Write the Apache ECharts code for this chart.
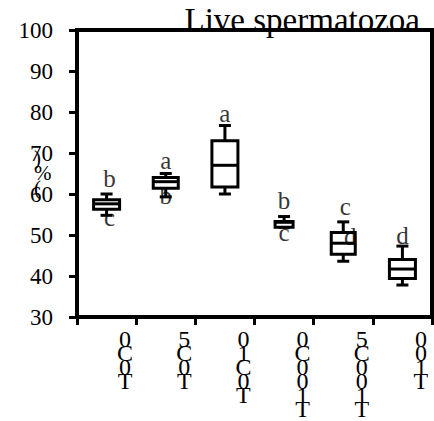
<!DOCTYPE html>
<html>
<head>
<meta charset="utf-8">
<script src="https://cdn.jsdelivr.net/npm/echarts@6/dist/echarts.min.js"></script>
<style>html,body{margin:0;padding:0;background:#fff}#c{width:434px;height:421px}</style>
</head>
<body>
<div id="c"></div>
<script>
// ---- data ----
var categories = ['0C0T', '5C0T', '01C0T', '0C001T', '5C001T', '001T'];
// [min, Q1, median, Q3, max]
var boxMin    = [54.8, 59.3, 60.0, 51.9, 43.6, 37.8];
var boxQ1     = [56.3, 61.4, 61.7, 51.9, 45.3, 39.4];
var boxMedian = [57.6, 63.0, 67.0, 53.1, 48.0, 41.7];
var boxQ3     = [58.6, 64.0, 73.0, 53.3, 50.6, 44.0];
var boxMax    = [60.0, 65.0, 76.7, 54.5, 53.2, 47.3];
var yTicks = [30, 40, 50, 60, 70, 80, 90, 100];
// significance letters: [category index, value, letter]
var letterCat   = [0, 0, 1, 1, 2, 3, 3, 4, 4, 5];
var letterValue = [63.8, 54.3, 68.1, 59.7, 79.6, 58.5, 50.7, 57.0, 49.6, 50.0];
var letterText  = ['b', 'c', 'a', 'b', 'a', 'b', 'c', 'c', 'd', 'd'];

// ---- styles ----
var boxWidths = [26, 25, 26, 18, 24, 26];
var letterShiftX = [3, 3, 0, 0, 0, 0, 0, 2, 7, 0];
var capWidth = 12;
var FONT = 'Liberation Serif';

var boxData = categories.map(function (c, i) {
  return [i, boxMin[i], boxQ1[i], boxMedian[i], boxQ3[i], boxMax[i]];
});
var letterData = letterCat.map(function (c, i) {
  return {value: [c, letterValue[i], letterText[i]], label: {offset: [letterShiftX[i], 0]}};
});

var chart = echarts.init(document.getElementById('c'), null, {renderer: 'svg'});
chart.setOption({
  animation: false,
  backgroundColor: '#fff',
  textStyle: {fontFamily: FONT},
  title: {
    text: 'Live spermatozoa',
    right: 9,
    top: -2,
    textStyle: {fontFamily: FONT, fontSize: 33, fontWeight: 'normal', color: '#000'}
  },
  grid: {
    left: 77, right: 2, top: 30, bottom: 104,
    show: true, borderColor: '#000', borderWidth: 4, backgroundColor: 'transparent'
  },
  graphic: [{
    type: 'text',
    left: 34, top: 147,
    z: 10,
    style: {text: ')\n%\n(', fontFamily: FONT, fontSize: 21, lineHeight: 15, fill: '#000', align: 'center'}
  }],
  xAxis: {
    type: 'category',
    data: categories,
    axisLine: {lineStyle: {color: '#000', width: 4}},
    axisTick: {show: true, length: 8, lineStyle: {color: '#000', width: 3}},
    axisLabel: {
      color: '#000', fontFamily: FONT, fontSize: 24, lineHeight: 14,
      margin: 15, padding: [0, 0, 0, 37], interval: 0,
      formatter: function (v) { return v.split('').join('\n'); }
    },
    splitLine: {show: false}
  },
  yAxis: {
    type: 'value',
    min: yTicks[0], max: yTicks[yTicks.length - 1], interval: 10,
    axisLine: {show: true, lineStyle: {color: '#000', width: 4}},
    axisTick: {show: true, length: 8, lineStyle: {color: '#000', width: 3}},
    axisLabel: {color: '#000', fontFamily: FONT, fontSize: 23, margin: 24},
    splitLine: {show: false}
  },
  series: [{
    type: 'custom',
    data: boxData,
    encode: {x: 0, y: [1, 2, 3, 4, 5]},
    renderItem: function (params, api) {
      var i = api.value(0);
      var w = boxWidths[i] / 2;
      var cw = capWidth / 2;
      var pMin = api.coord([i, api.value(1)]);
      var pQ1 = api.coord([i, api.value(2)]);
      var pMed = api.coord([i, api.value(3)]);
      var pQ3 = api.coord([i, api.value(4)]);
      var pMax = api.coord([i, api.value(5)]);
      var x = pMed[0];
      var ls = {stroke: '#000', lineWidth: 3, fill: null};
      return {
        type: 'group',
        children: [
          {type: 'line', shape: {x1: x, y1: pQ3[1], x2: x, y2: pMax[1]}, style: ls},
          {type: 'line', shape: {x1: x - cw, y1: pMax[1], x2: x + cw, y2: pMax[1]}, style: ls},
          {type: 'line', shape: {x1: x, y1: pQ1[1], x2: x, y2: pMin[1]}, style: ls},
          {type: 'line', shape: {x1: x - cw, y1: pMin[1], x2: x + cw, y2: pMin[1]}, style: ls},
          {type: 'rect', shape: {x: x - w, y: pQ3[1], width: 2 * w, height: pQ1[1] - pQ3[1]},
            style: {stroke: '#000', lineWidth: 3, fill: '#fff'}},
          {type: 'line', shape: {x1: x - w, y1: pMed[1], x2: x + w, y2: pMed[1]}, style: ls}
        ]
      };
    }
  }, {
    type: 'scatter',
    data: letterData,
    symbolSize: 1,
    itemStyle: {color: 'rgba(0,0,0,0)'},
    z: 5,
    label: {
      show: true, position: 'inside',
      formatter: function (p) { return p.value[2]; },
      color: '#000', fontFamily: FONT, fontSize: 25
    }
  }]
});
</script>
</body>
</html>
